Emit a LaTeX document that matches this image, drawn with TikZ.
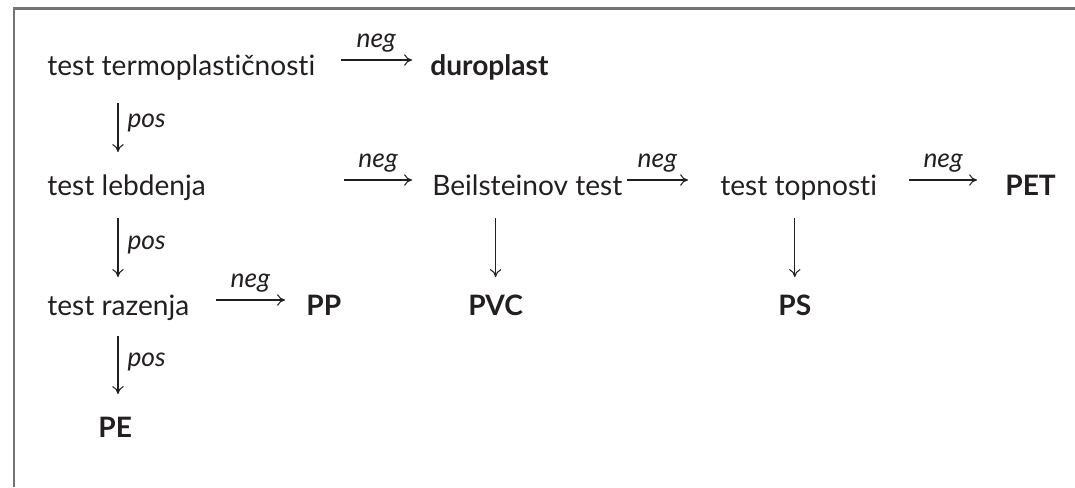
\documentclass[tikz,border=0pt]{standalone}
\usepackage{fontspec}
\setmainfont{Lato}[Ligatures=NoCommon]
\usepackage{xcolor}
\usepackage{tikz}
\usetikzlibrary{arrows.meta}

\definecolor{testo}{HTML}{231F20}
\definecolor{cornice}{HTML}{747474}

\begin{document}
\begin{tikzpicture}[x=0.02cm, y=-0.02cm,
    voce/.style={inner sep=0pt, anchor=base west, text=testo,
        font=\fontsize{16}{19}\selectfont, text height=0.72em, text depth=0.22em},
    ris/.style={voce, font=\fontsize{16}{19}\selectfont\bfseries},
    etich/.style={inner sep=0pt, text=testo, font=\fontsize{15}{18}\selectfont\itshape},
    freccia/.style={draw=testo, line width=0.6pt,
        -{Computer Modern Rightarrow[length=4.5pt,width=6.5pt]}}]

    % Cornice (solo lato superiore e sinistro)
    \useasboundingbox (0,0) rectangle (1075,487);
    \draw[cornice, line width=1.6pt] (14,487) -- (14,8.5) -- (1075,8.5);

    % Prove e risultati
    \node[voce] (t1) at (47,75) {test termoplastičnosti};
    \node[ris] (duro) at (430,75) {duroplast};
    \node[voce] (t2) at (47,195) {test lebdenja};
    \node[voce] (beil) at (432,195) {Beilsteinov test};
    \node[voce] (topn) at (720,195) {test topnosti};
    \node[ris] (pet) at (1005,195) {PET};
    \node[voce] (t3) at (47,315) {test razenja};
    \node[ris] (pp) at (306,315) {PP};
    \node[ris] (pvc) at (468,315) {PVC};
    \node[ris] (ps) at (778,315) {PS};
    \node[ris] (pe) at (98,437) {PE};

    % Frecce orizzontali (esito negativo)
    \draw[freccia] ([xshift=0.5cm, yshift=0.3cm]t1.base east)
        -- node[etich, above=0.14cm] {neg} ([xshift=-0.36cm, yshift=0.3cm]duro.base west);
    \draw[freccia] ([xshift=2.76cm, yshift=0.3cm]t2.base east)
        -- node[etich, above=0.14cm] {neg} ([xshift=-0.4cm, yshift=0.3cm]beil.base west);
    \draw[freccia] ([xshift=0.08cm, yshift=0.3cm]beil.base east)
        -- node[etich, above=0.14cm] {neg} ([xshift=-0.64cm, yshift=0.3cm]topn.base west);
    \draw[freccia] ([xshift=0.64cm, yshift=0.3cm]topn.base east)
        -- node[etich, above=0.14cm] {neg} ([xshift=-0.56cm, yshift=0.3cm]pet.base west);
    \draw[freccia] ([xshift=0.52cm, yshift=0.3cm]t3.base east)
        -- node[etich, above=0.14cm] {neg} ([xshift=-0.42cm, yshift=0.3cm]pp.base west);

    % Frecce verticali (esito positivo)
    \draw[freccia] ([xshift=1.42cm, yshift=-0.48cm]t1.south west)
        -- node[etich, right=0.18cm, pos=0.4] {pos} ([xshift=1.42cm, yshift=0.6cm]t2.north west);
    \draw[freccia] ([xshift=1.42cm, yshift=-0.38cm]t2.south west)
        -- node[etich, right=0.18cm, pos=0.45] {pos} ([xshift=1.42cm, yshift=0.5cm]t3.north west);
    \draw[freccia] ([xshift=1.42cm, yshift=-0.34cm]t3.south west)
        -- node[etich, right=0.18cm, pos=0.45] {pos} ([xshift=1.42cm, yshift=0.6cm]t3.south west |- pe.north);
    \draw[freccia] ([yshift=-0.38cm]pvc.north |- beil.south) -- ([yshift=0.5cm]pvc.north);
    \draw[freccia] ([yshift=-0.38cm]ps.north |- topn.south) -- ([yshift=0.5cm]ps.north);
\end{tikzpicture}
\end{document}
